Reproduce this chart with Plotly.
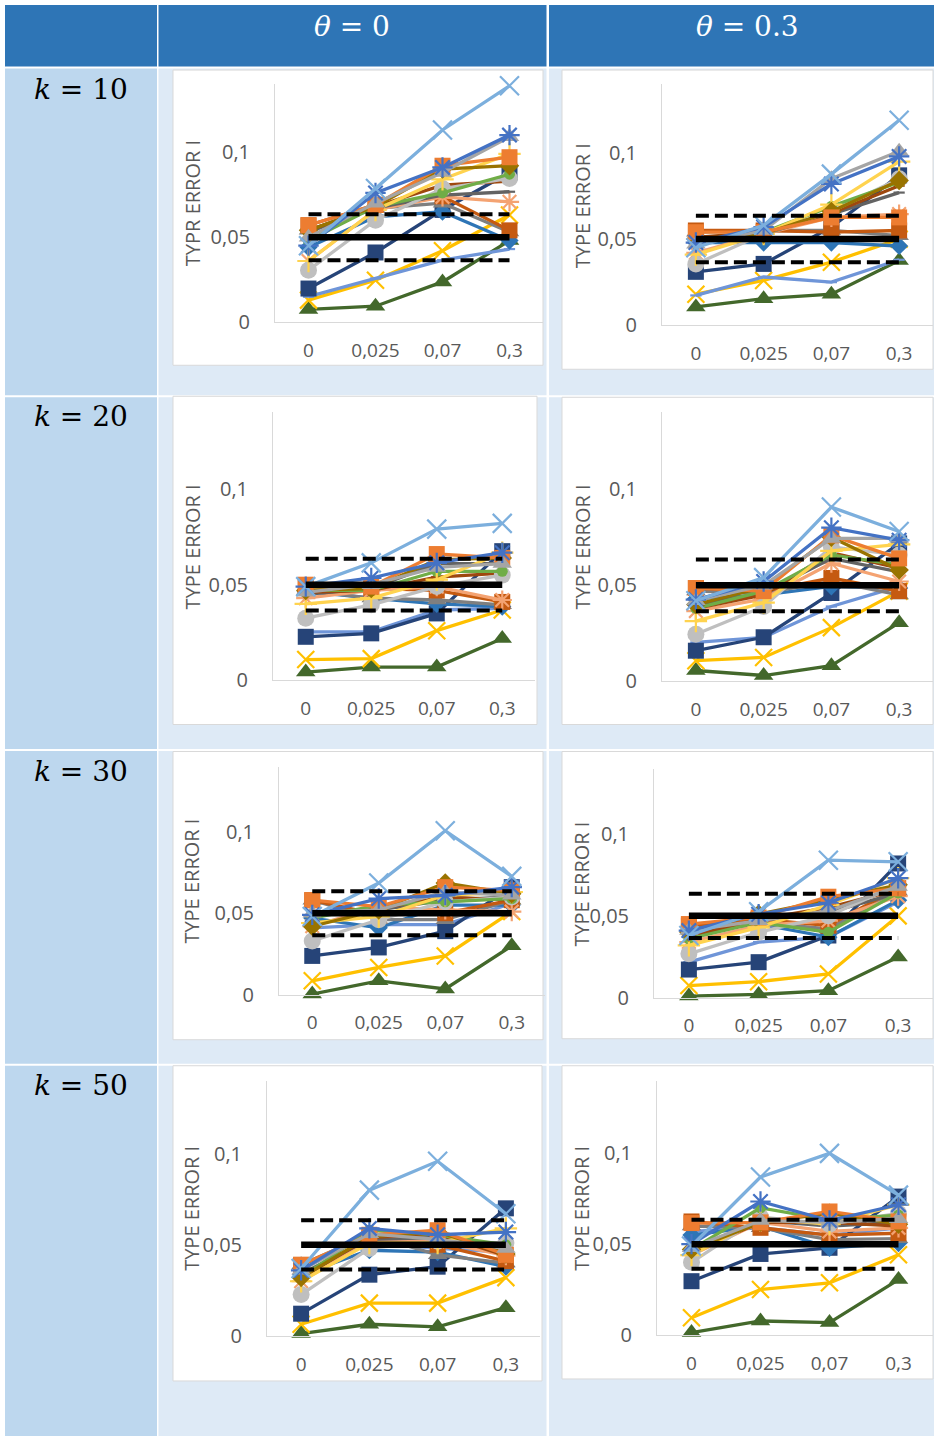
import plotly.graph_objects as go

# ---------------- data ----------------
x_labels = ["0", "0,025", "0,07", "0,3"]
y_tick_vals = [0, 0.05, 0.1]
y_tick_text = ["0", "0,05", "0,1"]
nominal_level = 0.05
lower_bound = 0.0365
upper_bound = 0.0635

row_labels = ["<i>k</i> = 10", "<i>k</i> = 20", "<i>k</i> = 30", "<i>k</i> = 50"]
col_labels = ["<i>θ</i> = 0", "<i>θ</i> = 0.3"]
y_titles = ["TYPR ERROR I", "TYPE ERROR I", "TYPE ERROR I", "TYPE ERROR I",
            "TYPE ERROR I", "TYPE ERROR I", "TYPE ERROR I", "TYPE ERROR I"]

series_names = ["S1", "S2", "S3", "S4", "S5", "S6", "S7", "S8", "S9",
                "S10", "S11", "S12", "S13", "S14", "S15", "S16", "S17", "S18"]
series_colors = ["#43682B", "#FFC000", "#6F95D8", "#264478", "#2E75B6", "#7F7F7F",
                 "#C55A11", "#F4A372", "#636363", "#9E480E", "#BFBFBF", "#70AD47",
                 "#FFD34F", "#997300", "#ED7D31", "#A5A5A5", "#4472C4", "#7CAFDD"]
series_symbols = ["triangle-up", "x-thin", "line-ew", "square", "diamond", "triangle-up",
                  "square", "asterisk", "line-ew", "line-ew", "circle", "circle",
                  "cross-thin", "diamond", "square", "triangle-up", "asterisk", "x-thin"]
series_sizes = [17, 17, 8, 16, 14, 17, 16, 16, 8, 8, 17, 11, 16, 15, 16, 17, 17, 19]

# k = 10, theta = 0
k10_t0 = [
    [0.0075, 0.0094, 0.0237, 0.048], [0.013, 0.0247, 0.042, 0.063],
    [0.015, 0.0257, 0.0365, 0.043], [0.0198, 0.041, 0.066, 0.088],
    [0.044, 0.062, 0.065, 0.048], [0.054, 0.067, 0.070, 0.053],
    [0.057, 0.069, 0.074, 0.054], [0.036, 0.066, 0.0737, 0.0708],
    [0.053, 0.067, 0.0747, 0.0767], [0.054, 0.068, 0.0806, 0.083],
    [0.0306, 0.060, 0.0786, 0.0845], [0.048, 0.068, 0.076, 0.087],
    [0.036, 0.066, 0.084, 0.099], [0.054, 0.068, 0.090, 0.092],
    [0.057, 0.069, 0.092, 0.097], [0.050, 0.070, 0.088, 0.109],
    [0.045, 0.076, 0.091, 0.110], [0.045, 0.0786, 0.113, 0.139],
]
# k = 10, theta = 0.3
k10_t03 = [
    [0.0106, 0.0154, 0.018, 0.0376], [0.018, 0.026, 0.0366, 0.050],
    [0.0173, 0.028, 0.025, 0.038], [0.031, 0.0356, 0.057, 0.087],
    [0.048, 0.048, 0.048, 0.046], [0.054, 0.055, 0.055, 0.052],
    [0.055, 0.055, 0.054, 0.055], [0.042, 0.053, 0.0626, 0.0645],
    [0.050, 0.053, 0.0645, 0.077], [0.051, 0.054, 0.065, 0.081],
    [0.0356, 0.053, 0.066, 0.085], [0.048, 0.054, 0.069, 0.083],
    [0.041, 0.053, 0.070, 0.095], [0.050, 0.053, 0.066, 0.084],
    [0.054, 0.054, 0.0626, 0.0626], [0.047, 0.055, 0.085, 0.101],
    [0.048, 0.057, 0.082, 0.098], [0.045, 0.058, 0.0877, 0.119],
]
# k = 20, theta = 0
k20_t0 = [
    [0.0044, 0.007, 0.007, 0.0219], [0.0109, 0.0114, 0.026, 0.0368],
    [0.0254, 0.0254, 0.0368, 0.0377], [0.0228, 0.0246, 0.035, 0.0675],
    [0.0465, 0.043, 0.040, 0.0386], [0.047, 0.043, 0.042, 0.0395],
    [0.049, 0.048, 0.047, 0.041], [0.043, 0.047, 0.049, 0.042],
    [0.045, 0.048, 0.061, 0.061], [0.046, 0.047, 0.054, 0.056],
    [0.0325, 0.0395, 0.049, 0.055], [0.047, 0.047, 0.057, 0.057],
    [0.040, 0.043, 0.0526, 0.0667], [0.047, 0.048, 0.063, 0.064],
    [0.050, 0.049, 0.066, 0.064], [0.046, 0.050, 0.059, 0.061],
    [0.049, 0.0535, 0.0614, 0.0667], [0.049, 0.0614, 0.079, 0.082],
]
# k = 20, theta = 0.3
k20_t03 = [
    [0.0057, 0.0031, 0.0082, 0.0306], [0.0108, 0.0125, 0.028, 0.047],
    [0.0203, 0.0229, 0.039, 0.0495], [0.016, 0.023, 0.046, 0.0718],
    [0.043, 0.045, 0.0495, 0.0486], [0.047, 0.046, 0.052, 0.045],
    [0.0486, 0.047, 0.0538, 0.047], [0.0366, 0.043, 0.0615, 0.052],
    [0.040, 0.046, 0.064, 0.057], [0.038, 0.045, 0.067, 0.059],
    [0.0246, 0.039, 0.070, 0.0658], [0.038, 0.047, 0.0658, 0.0607],
    [0.0314, 0.041, 0.0679, 0.0713], [0.040, 0.049, 0.075, 0.058],
    [0.0486, 0.047, 0.076, 0.064], [0.042, 0.050, 0.0744, 0.0744],
    [0.0426, 0.052, 0.080, 0.0735], [0.042, 0.054, 0.0907, 0.078],
]
# k = 30, theta = 0
k30_t0 = [
    [0.0004, 0.0085, 0.0035, 0.030], [0.0085, 0.0167, 0.0238, 0.051],
    [0.041, 0.043, 0.043, 0.056], [0.0238, 0.029, 0.039, 0.066],
    [0.047, 0.041, 0.055, 0.055], [0.058, 0.046, 0.046, 0.058],
    [0.058, 0.049, 0.050, 0.058], [0.042, 0.054, 0.052, 0.051],
    [0.050, 0.052, 0.058, 0.060], [0.048, 0.053, 0.060, 0.058],
    [0.033, 0.046, 0.057, 0.060], [0.047, 0.055, 0.057, 0.059],
    [0.044, 0.048, 0.061, 0.063], [0.042, 0.052, 0.0685, 0.062],
    [0.058, 0.054, 0.066, 0.064], [0.050, 0.052, 0.063, 0.061],
    [0.049, 0.059, 0.061, 0.066], [0.048, 0.0685, 0.1006, 0.0726],
]
# k = 30, theta = 0.3
k30_t03 = [
    [0.001, 0.002, 0.0043, 0.0248], [0.0074, 0.0098, 0.0145, 0.050],
    [0.0217, 0.034, 0.037, 0.0586], [0.0172, 0.0217, 0.038, 0.082],
    [0.040, 0.045, 0.037, 0.0596], [0.043, 0.046, 0.042, 0.065],
    [0.044, 0.048, 0.044, 0.067], [0.034, 0.044, 0.047, 0.062],
    [0.038, 0.047, 0.052, 0.064], [0.037, 0.048, 0.055, 0.066],
    [0.0268, 0.040, 0.050, 0.069], [0.036, 0.046, 0.040, 0.064],
    [0.032, 0.043, 0.0566, 0.073], [0.040, 0.051, 0.0596, 0.069],
    [0.045, 0.049, 0.0617, 0.0668], [0.041, 0.047, 0.053, 0.068],
    [0.041, 0.051, 0.058, 0.073], [0.038, 0.0525, 0.084, 0.083],
]
# k = 50, theta = 0
k50_t0 = [
    [0.0013, 0.0064, 0.005, 0.0155], [0.0064, 0.018, 0.018, 0.032],
    [0.0336, 0.051, 0.048, 0.046], [0.0122, 0.0336, 0.038, 0.070],
    [0.0336, 0.047, 0.046, 0.038], [0.039, 0.0555, 0.0445, 0.040],
    [0.039, 0.054, 0.050, 0.041], [0.030, 0.052, 0.052, 0.044],
    [0.034, 0.053, 0.054, 0.046], [0.032, 0.054, 0.056, 0.044],
    [0.0227, 0.048, 0.052, 0.051], [0.032, 0.058, 0.0555, 0.050],
    [0.030, 0.051, 0.051, 0.059], [0.032, 0.0545, 0.057, 0.045],
    [0.039, 0.0555, 0.058, 0.0445], [0.036, 0.056, 0.053, 0.048],
    [0.036, 0.059, 0.0555, 0.057], [0.037, 0.080, 0.0958, 0.067],
]
# k = 50, theta = 0.3
k50_t03 = [
    [0.0013, 0.0077, 0.0068, 0.0305], [0.0095, 0.025, 0.0287, 0.0442],
    [0.057, 0.059, 0.055, 0.059], [0.0296, 0.0446, 0.048, 0.0762],
    [0.055, 0.060, 0.048, 0.0506], [0.060, 0.059, 0.0525, 0.053],
    [0.0625, 0.059, 0.055, 0.056], [0.044, 0.062, 0.057, 0.059],
    [0.047, 0.063, 0.060, 0.062], [0.046, 0.062, 0.062, 0.060],
    [0.040, 0.065, 0.061, 0.067], [0.047, 0.070, 0.0634, 0.066],
    [0.044, 0.064, 0.061, 0.0717], [0.047, 0.062, 0.067, 0.061],
    [0.0616, 0.062, 0.068, 0.0625], [0.048, 0.063, 0.062, 0.064],
    [0.050, 0.0735, 0.063, 0.0717], [0.049, 0.087, 0.100, 0.077],
]

panels = [k10_t0, k10_t03, k20_t0, k20_t03, k30_t0, k30_t03, k50_t0, k50_t03]

# ---------------- geometry (pixels of the 934x1436 target) ----------------
W, H = 934, 1436
PAGE_H = 1450             # height of the captured page; positions are fractions of it
BODY_MARGIN = 8           # default body margin: initial figure fits inside the window


def px(x):
    return x / W


def py(y):
    return 1 - y / H


# chart boxes (x0, y0, x1, y1) and plot areas (x0, x1, ytop, ybottom)
boxes = [(173, 70, 543, 365), (562, 70, 933, 369),
         (173, 396, 537, 724), (562, 397, 933, 724),
         (173, 751, 543, 1039), (562, 751, 933, 1038),
         (173, 1065, 542, 1380), (562, 1065, 933, 1378)]
plots = [(275, 543, 84, 322), (662, 933, 84, 325),
         (273, 535, 412, 680), (662, 933, 412, 681),
         (279, 545, 766, 994), (654, 933, 768, 997),
         (267, 540, 1080, 1335), (657, 933, 1080, 1334)]
ytitle_pos = [(192, 203), (582, 206), (192, 547), (582, 547),
              (192, 881), (582, 884), (192, 1208), (582, 1208)]

header_color = "#2E75B6"
left_color = "#BDD7EE"
cell_color = "#DEEAF6"

fig = go.Figure()

shapes = []
annotations = []

# header row
for (x0, x1) in [(5, 157), (158.5, 546.5), (549, 934)]:
    shapes.append(dict(type="rect", xref="paper", yref="paper", x0=px(x0), x1=px(x1),
                       y0=py(66.5), y1=py(5), fillcolor=header_color, line_width=0, layer="below"))
row_spans = [(68.5, 395), (397, 748.5), (750.5, 1063), (1065, H)]
for (y0, y1) in row_spans:
    shapes.append(dict(type="rect", xref="paper", yref="paper", x0=px(5), x1=px(157),
                       y0=py(y1), y1=py(y0), fillcolor=left_color, line_width=0, layer="below"))
    for (x0, x1) in [(158.5, 546.5), (549, 934)]:
        shapes.append(dict(type="rect", xref="paper", yref="paper", x0=px(x0), x1=px(x1),
                           y0=py(y1), y1=py(y0), fillcolor=cell_color, line_width=0, layer="below"))
for (x0, y0, x1, y1) in boxes:
    shapes.append(dict(type="rect", xref="paper", yref="paper", x0=px(x0), x1=px(x1),
                       y0=py(y1), y1=py(y0), fillcolor="white",
                       line=dict(color="#D9D9D9", width=1), layer="below"))

# header labels
for lbl, xx in zip(col_labels, [352, 747]):
    annotations.append(dict(text=lbl, x=px(xx), y=py(26), xref="paper", yref="paper",
                            xanchor="center", yanchor="middle", showarrow=False,
                            font=dict(family="DejaVu Serif", size=28, color="white")))
for lbl, yy in zip(row_labels, [89, 416, 771, 1085]):
    annotations.append(dict(text=lbl, x=px(81), y=py(yy), xref="paper", yref="paper",
                            xanchor="center", yanchor="middle", showarrow=False,
                            font=dict(family="DejaVu Serif", size=28, color="black")))

layout_axes = {}
for i, pdata in enumerate(panels):
    n = i + 1
    xa = "x" if n == 1 else f"x{n}"
    ya = "y" if n == 1 else f"y{n}"
    xk = "xaxis" if n == 1 else f"xaxis{n}"
    yk = "yaxis" if n == 1 else f"yaxis{n}"
    x0, x1, yt, yb = plots[i]
    layout_axes[xk] = dict(domain=[px(x0), px(x1)], anchor=ya, type="category",
                           categoryorder="array", categoryarray=x_labels,
                           range=[-0.5, 3.5], showgrid=False, zeroline=False,
                           showline=True, linecolor="#D9D9D9", linewidth=1, ticks="",
                           ticklabelstandoff=11,
                           tickfont=dict(family="Open Sans", size=19, color="#595959"))
    layout_axes[yk] = dict(domain=[py(yb), py(yt)], anchor=xa, range=[0, 0.14],
                           tickvals=y_tick_vals, ticktext=y_tick_text, showgrid=False,
                           zeroline=False, showline=True, linecolor="#D9D9D9", linewidth=1,
                           ticks="", ticklabelstandoff=20,
                           tickfont=dict(family="Open Sans", size=20, color="#595959"))
    for s, vals in enumerate(pdata):
        sym = series_symbols[s]
        thin = sym in ("x-thin", "cross-thin", "asterisk", "line-ew")
        fig.add_trace(go.Scatter(
            x=x_labels, y=vals, xaxis=xa, yaxis=ya, mode="lines+markers",
            name=series_names[s], showlegend=False, cliponaxis=False,
            line=dict(color=series_colors[s], width=3.3),
            marker=dict(symbol=sym, size=series_sizes[s], color=series_colors[s],
                        line=dict(color=series_colors[s], width=2.2 if thin else 0)),
        ))
    # reference lines
    fig.add_trace(go.Scatter(x=x_labels, y=[upper_bound] * 4, xaxis=xa, yaxis=ya, mode="lines",
                             showlegend=False, line=dict(color="black", width=4, dash="13px,6px")))
    fig.add_trace(go.Scatter(x=x_labels, y=[lower_bound] * 4, xaxis=xa, yaxis=ya, mode="lines",
                             showlegend=False, line=dict(color="black", width=4, dash="13px,6px")))
    fig.add_trace(go.Scatter(x=x_labels, y=[nominal_level] * 4, xaxis=xa, yaxis=ya, mode="lines",
                             showlegend=False, line=dict(color="black", width=6.5)))
    tx, ty = ytitle_pos[i]
    annotations.append(dict(text=y_titles[i], x=px(tx), y=py(ty), xref="paper", yref="paper",
                            xanchor="center", yanchor="middle", showarrow=False, textangle=-90,
                            font=dict(family="Open Sans", size=20, color="#595959")))

# the figure first fits inside the window with its default body margin;
# after load the margin is removed and the figure is resized to the full page.
fig.update_layout(width=W - 2 * BODY_MARGIN, height=PAGE_H - 2 * BODY_MARGIN,
                  margin=dict(l=0, r=0, t=0, b=0),
                  paper_bgcolor="white", plot_bgcolor="rgba(0,0,0,0)",
                  shapes=shapes, annotations=annotations, showlegend=False,
                  **layout_axes)

post = ("document.body.style.margin='0px';"
        "Plotly.relayout('{plot_id}', {width: %d, height: %d});" % (W, PAGE_H))
fig.write_html("out.html", config={"displayModeBar": False}, post_script=post)
